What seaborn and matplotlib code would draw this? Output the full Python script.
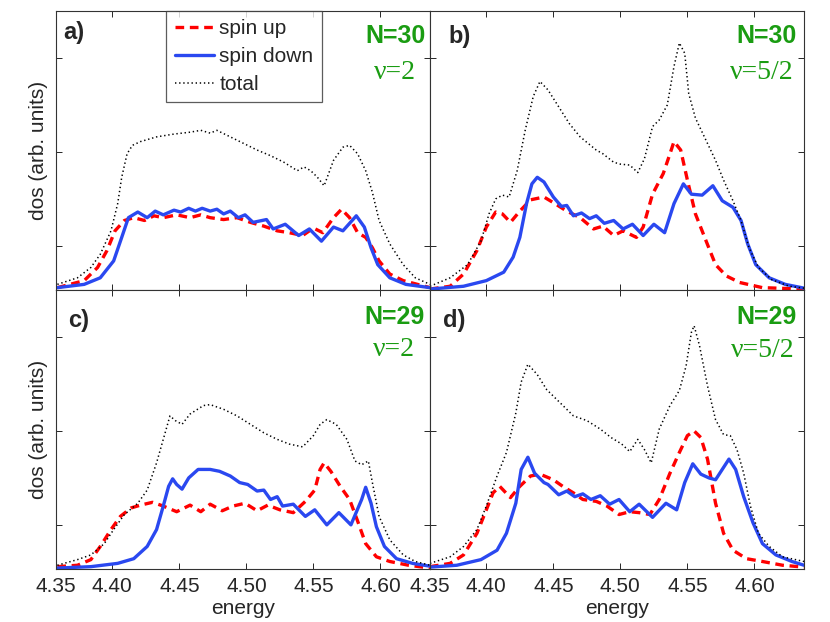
import numpy as np
import pandas as pd
import seaborn as sns
import matplotlib
matplotlib.use("Agg")
import matplotlib.pyplot as plt

# ---- data (energy, dos in arb. units) ----
# panel a) N=30, nu=2
a_up_e = [4.359, 4.379, 4.389, 4.396, 4.402, 4.409, 4.416, 4.424, 4.431, 4.438, 4.448, 4.458, 4.466,
          4.473, 4.483, 4.493, 4.503, 4.513, 4.523, 4.532, 4.542, 4.550, 4.557, 4.565, 4.571, 4.577,
          4.583, 4.589, 4.594, 4.599, 4.607, 4.617, 4.637]
a_up_v = [0.025, 0.10, 0.24, 0.42, 0.63, 0.74, 0.77, 0.74, 0.79, 0.77, 0.80, 0.77, 0.80,
          0.77, 0.75, 0.77, 0.72, 0.68, 0.63, 0.61, 0.58, 0.66, 0.61, 0.77, 0.86, 0.77,
          0.61, 0.56, 0.45, 0.31, 0.17, 0.10, 0.025]
a_dn_e = [4.359, 4.379, 4.391, 4.401, 4.407, 4.412, 4.419, 4.426, 4.432, 4.438, 4.446, 4.451, 4.457,
          4.462, 4.467, 4.473, 4.478, 4.483, 4.488, 4.494, 4.499, 4.505, 4.515, 4.520, 4.529, 4.539,
          4.547, 4.556, 4.565, 4.572, 4.582, 4.588, 4.593, 4.598, 4.607, 4.619, 4.637]
a_dn_v = [0.025, 0.06, 0.13, 0.31, 0.56, 0.77, 0.83, 0.77, 0.84, 0.80, 0.85, 0.83, 0.87,
          0.84, 0.87, 0.84, 0.86, 0.81, 0.84, 0.77, 0.80, 0.72, 0.75, 0.65, 0.70, 0.58,
          0.65, 0.52, 0.67, 0.63, 0.79, 0.67, 0.45, 0.27, 0.13, 0.06, 0.025]
a_tot_e = [4.359, 4.374, 4.384, 4.391, 4.399, 4.404, 4.407, 4.411, 4.415, 4.421, 4.433, 4.446, 4.458,
           4.466, 4.473, 4.478, 4.488, 4.498, 4.508, 4.518, 4.528, 4.538, 4.543, 4.548, 4.553, 4.558,
           4.565, 4.572, 4.577, 4.583, 4.589, 4.594, 4.599, 4.607, 4.617, 4.626, 4.637]
a_tot_v = [0.06, 0.13, 0.24, 0.38, 0.63, 0.92, 1.20, 1.45, 1.54, 1.58, 1.63, 1.66, 1.68,
           1.70, 1.67, 1.70, 1.63, 1.56, 1.49, 1.43, 1.36, 1.27, 1.31, 1.27, 1.20, 1.11,
           1.38, 1.52, 1.54, 1.45, 1.27, 1.04, 0.74, 0.49, 0.27, 0.13, 0.06]

# panel b) N=30, nu=5/2
b_up_e = [4.358, 4.373, 4.383, 4.393, 4.400, 4.407, 4.412, 4.418, 4.425, 4.433, 4.443, 4.450, 4.460,
          4.470, 4.480, 4.487, 4.495, 4.502, 4.512, 4.517, 4.524, 4.532, 4.537, 4.540, 4.545, 4.550,
          4.556, 4.564, 4.571, 4.579, 4.589, 4.606, 4.637]
b_up_v = [0.01, 0.04, 0.17, 0.42, 0.67, 0.83, 0.81, 0.72, 0.84, 0.96, 0.99, 0.93, 0.84,
          0.77, 0.65, 0.68, 0.58, 0.63, 0.56, 0.67, 1.02, 1.24, 1.45, 1.58, 1.49, 1.17,
          0.81, 0.52, 0.27, 0.15, 0.08, 0.025, 0.01]
b_dn_e = [4.358, 4.383, 4.400, 4.413, 4.420, 4.425, 4.430, 4.434, 4.438, 4.443, 4.450, 4.456, 4.460,
          4.465, 4.471, 4.477, 4.482, 4.488, 4.495, 4.502, 4.509, 4.517, 4.525, 4.533, 4.540, 4.547,
          4.553, 4.561, 4.569, 4.576, 4.584, 4.590, 4.595, 4.601, 4.611, 4.623, 4.637]
b_dn_v = [0.01, 0.04, 0.10, 0.19, 0.35, 0.56, 0.92, 1.13, 1.20, 1.15, 0.99, 0.89, 0.90,
          0.79, 0.82, 0.76, 0.79, 0.71, 0.74, 0.65, 0.70, 0.58, 0.70, 0.61, 0.92, 1.13,
          1.02, 1.01, 1.11, 0.95, 0.88, 0.74, 0.49, 0.27, 0.13, 0.06, 0.02]
b_tot_e = [4.358, 4.373, 4.386, 4.396, 4.402, 4.407, 4.412, 4.417, 4.423, 4.429, 4.435, 4.440, 4.446,
           4.454, 4.462, 4.470, 4.476, 4.482, 4.487, 4.495, 4.500, 4.507, 4.513, 4.518, 4.524, 4.529,
           4.535, 4.540, 4.544, 4.548, 4.551, 4.556, 4.564, 4.571, 4.577, 4.584, 4.590, 4.596,
           4.603, 4.613, 4.626, 4.637]
b_tot_v = [0.04, 0.13, 0.27, 0.52, 0.81, 0.97, 1.01, 0.99, 1.27, 1.70, 2.06, 2.22, 2.13,
           1.95, 1.77, 1.63, 1.56, 1.49, 1.45, 1.36, 1.34, 1.33, 1.25, 1.40, 1.74, 1.81,
           1.97, 2.38, 2.63, 2.52, 2.09, 1.83, 1.59, 1.38, 1.17, 0.95, 0.74, 0.45,
           0.24, 0.11, 0.04, 0.02]

# panel c) N=29, nu=2
c_up_e = [4.359, 4.374, 4.384, 4.391, 4.399, 4.406, 4.414, 4.421, 4.430, 4.438, 4.448, 4.458, 4.466,
          4.473, 4.482, 4.490, 4.499, 4.508, 4.516, 4.525, 4.535, 4.544, 4.551, 4.555, 4.558, 4.563,
          4.570, 4.577, 4.583, 4.589, 4.597, 4.607, 4.621, 4.637]
c_up_v = [0.025, 0.04, 0.10, 0.24, 0.42, 0.56, 0.65, 0.68, 0.71, 0.67, 0.61, 0.68, 0.61,
          0.69, 0.62, 0.67, 0.70, 0.62, 0.68, 0.63, 0.60, 0.72, 0.84, 1.06, 1.13, 1.04,
          0.88, 0.74, 0.51, 0.27, 0.13, 0.08, 0.04, 0.01]
c_dn_e = [4.359, 4.384, 4.404, 4.416, 4.426, 4.433, 4.438, 4.442, 4.445, 4.448, 4.452, 4.457, 4.464,
          4.473, 4.480, 4.488, 4.495, 4.501, 4.508, 4.513, 4.518, 4.523, 4.527, 4.535, 4.544, 4.551,
          4.560, 4.569, 4.578, 4.586, 4.589, 4.593, 4.597, 4.603, 4.612, 4.624, 4.637]
c_dn_v = [0.01, 0.025, 0.06, 0.11, 0.24, 0.42, 0.67, 0.88, 0.96, 0.90, 0.85, 0.97, 1.06,
          1.06, 1.04, 0.99, 0.92, 0.90, 0.83, 0.84, 0.74, 0.77, 0.67, 0.69, 0.56, 0.63,
          0.47, 0.60, 0.47, 0.74, 0.87, 0.70, 0.45, 0.24, 0.11, 0.06, 0.03]
c_tot_e = [4.359, 4.374, 4.384, 4.394, 4.401, 4.409, 4.419, 4.426, 4.433, 4.438, 4.443, 4.447, 4.452,
           4.458, 4.468, 4.473, 4.483, 4.493, 4.503, 4.513, 4.523, 4.532, 4.542, 4.550, 4.555, 4.560,
           4.567, 4.575, 4.581, 4.586, 4.591, 4.594, 4.599, 4.607, 4.617, 4.626, 4.637]
c_tot_v = [0.04, 0.10, 0.15, 0.27, 0.42, 0.58, 0.70, 0.84, 1.13, 1.38, 1.63, 1.58, 1.54,
           1.65, 1.74, 1.75, 1.70, 1.63, 1.54, 1.45, 1.38, 1.33, 1.30, 1.42, 1.54, 1.59,
           1.54, 1.38, 1.15, 1.11, 1.15, 0.92, 0.56, 0.31, 0.15, 0.08, 0.04]

# panel d) N=29, nu=5/2
d_up_e = [4.358, 4.373, 4.383, 4.393, 4.400, 4.405, 4.410, 4.418, 4.425, 4.433, 4.440, 4.450, 4.457,
          4.465, 4.472, 4.482, 4.490, 4.499, 4.507, 4.514, 4.522, 4.529, 4.537, 4.544, 4.550, 4.555,
          4.560, 4.565, 4.571, 4.577, 4.584, 4.594, 4.606, 4.621, 4.637]
d_up_v = [0.025, 0.06, 0.15, 0.38, 0.63, 0.81, 0.88, 0.76, 0.88, 0.99, 1.01, 0.95, 0.88,
          0.81, 0.74, 0.72, 0.67, 0.58, 0.61, 0.60, 0.58, 0.74, 1.02, 1.24, 1.42, 1.47,
          1.40, 1.17, 0.70, 0.38, 0.20, 0.11, 0.08, 0.04, 0.02]
d_dn_e = [4.358, 4.378, 4.396, 4.408, 4.415, 4.422, 4.426, 4.431, 4.436, 4.443, 4.446, 4.454, 4.460,
          4.466, 4.472, 4.478, 4.485, 4.492, 4.499, 4.507, 4.514, 4.524, 4.534, 4.542, 4.548, 4.554,
          4.560, 4.566, 4.571, 4.576, 4.581, 4.586, 4.592, 4.599, 4.606, 4.616, 4.628, 4.637]
d_dn_v = [0.02, 0.04, 0.10, 0.20, 0.38, 0.70, 1.06, 1.19, 1.02, 0.92, 0.90, 0.79, 0.83,
          0.77, 0.80, 0.74, 0.78, 0.69, 0.74, 0.61, 0.69, 0.55, 0.70, 0.63, 0.92, 1.12,
          1.01, 0.97, 0.95, 1.06, 1.17, 1.06, 0.77, 0.49, 0.27, 0.15, 0.08, 0.04]
d_tot_e = [4.358, 4.373, 4.383, 4.393, 4.400, 4.408, 4.415, 4.422, 4.426, 4.431, 4.438, 4.445, 4.455,
           4.465, 4.475, 4.485, 4.493, 4.501, 4.507, 4.513, 4.518, 4.523, 4.529, 4.537, 4.544, 4.549,
           4.553, 4.555, 4.559, 4.565, 4.571, 4.577, 4.582, 4.587, 4.592, 4.597, 4.603, 4.611,
           4.621, 4.637]
d_tot_v = [0.06, 0.13, 0.24, 0.42, 0.67, 0.99, 1.24, 1.66, 1.99, 2.18, 2.07, 1.91, 1.77,
           1.63, 1.58, 1.49, 1.40, 1.33, 1.25, 1.38, 1.27, 1.13, 1.49, 1.74, 1.90, 2.16,
           2.52, 2.59, 2.38, 1.95, 1.59, 1.43, 1.42, 1.27, 1.02, 0.67, 0.38, 0.24,
           0.13, 0.08]

panel_tags = ["a)", "b)", "c)", "d)"]
n_labels = ["N=30", "N=30", "N=29", "N=29"]
nu_labels = ["\u03bd=2", "\u03bd=5/2", "\u03bd=2", "\u03bd=5/2"]
xtick_vals = [4.40, 4.45, 4.50, 4.55, 4.60]
xtick_text = ["4.35", "4.40", "4.45", "4.50", "4.55", "4.60"]

panels = [
    (a_up_e, a_up_v, a_dn_e, a_dn_v, a_tot_e, a_tot_v),
    (b_up_e, b_up_v, b_dn_e, b_dn_v, b_tot_e, b_tot_v),
    (c_up_e, c_up_v, c_dn_e, c_dn_v, c_tot_e, c_tot_v),
    (d_up_e, d_up_v, d_dn_e, d_dn_v, d_tot_e, d_tot_v),
]

sns.set_style("ticks")
plt.rcParams["font.family"] = ["Liberation Sans", "DejaVu Sans"]
plt.rcParams["font.size"] = 15

RED = "#ff0000"
BLUE = "#2a48f0"
GREEN = "#1a9c12"
XMIN, XMAX = 4.358, 4.637

fig, axes = plt.subplots(2, 2, figsize=(8.3, 6.22), dpi=100)
fig.subplots_adjust(left=0.0675, right=0.9687, bottom=0.0852, top=0.9823, wspace=0, hspace=0)

# text positions (axes fraction) per panel
tag_pos = [(0.019, 0.924), (0.048, 0.910), (0.032, 0.889), (0.035, 0.889)]
n_pos = [(0.987, 0.910), (0.981, 0.910), (0.985, 0.904), (0.981, 0.904)]
nu_pos = [(0.962, 0.781), (0.973, 0.781), (0.960, 0.786), (0.976, 0.782)]

for i, ax in enumerate(axes.flat):
    up_e, up_v, dn_e, dn_v, tot_e, tot_v = panels[i]
    df_up = pd.DataFrame({"energy": up_e, "dos": up_v})
    df_dn = pd.DataFrame({"energy": dn_e, "dos": dn_v})
    df_tot = pd.DataFrame({"energy": tot_e, "dos": tot_v})

    sns.lineplot(data=df_up, x="energy", y="dos", ax=ax, color=RED, lw=2.4,
                 label="spin up", sort=False)
    ax.lines[-1].set_dashes((2.6, 1.7))
    sns.lineplot(data=df_dn, x="energy", y="dos", ax=ax, color=BLUE, lw=2.4,
                 label="spin down", sort=False)
    sns.lineplot(data=df_tot, x="energy", y="dos", ax=ax, color="black", lw=1.1,
                 label="total", sort=False)
    ax.lines[-1].set_dashes((0.9, 1.8))
    for ln in ax.lines:
        ln.set_solid_joinstyle("round")
        ln.set_dash_joinstyle("round")

    ax.set_xlim(XMIN, XMAX)
    ax.set_ylim(0, 2.97)
    ax.set_yticks([0.47, 1.47, 2.47])
    ax.set_yticklabels([])
    ax.set_xticks([XMIN] + xtick_vals)
    if i >= 2:
        ax.set_xticklabels(xtick_text)
        ax.set_xlabel("energy", fontsize=15, labelpad=2)
    else:
        ax.set_xticklabels([])
        ax.set_xlabel("")
    if i % 2 == 0:
        ax.set_ylabel("dos (arb. units)", fontsize=15, labelpad=0)
    else:
        ax.set_ylabel("")
    ax.tick_params(direction="in", length=4, width=0.7, top=True, right=True,
                   labelsize=15, pad=6)
    for sp in ax.spines.values():
        sp.set_visible(True)
        sp.set_linewidth(0.8)
        sp.set_color("#333333")

    ax.text(tag_pos[i][0], tag_pos[i][1], panel_tags[i], transform=ax.transAxes,
            fontsize=17, fontweight="bold", ha="left", va="center")
    ax.text(n_pos[i][0], n_pos[i][1], n_labels[i], transform=ax.transAxes,
            fontsize=18, fontweight="bold", color=GREEN, ha="right", va="center")
    ax.text(nu_pos[i][0], nu_pos[i][1], nu_labels[i], transform=ax.transAxes,
            fontsize=20, color=GREEN, ha="right", va="center",
            family=["Liberation Serif", "DejaVu Serif"])

    if i == 0:
        leg = ax.legend(loc="upper left", bbox_to_anchor=(0.295, 1.0), borderaxespad=0,
                        fancybox=False, frameon=True, fontsize=15, handlelength=1.9,
                        handletextpad=0.25, labelspacing=0.42, borderpad=0.4)
        leg.get_frame().set_edgecolor("#333333")
        leg.get_frame().set_linewidth(0.9)
    else:
        ax.get_legend().remove()

fig.savefig("out.png", dpi=100)
